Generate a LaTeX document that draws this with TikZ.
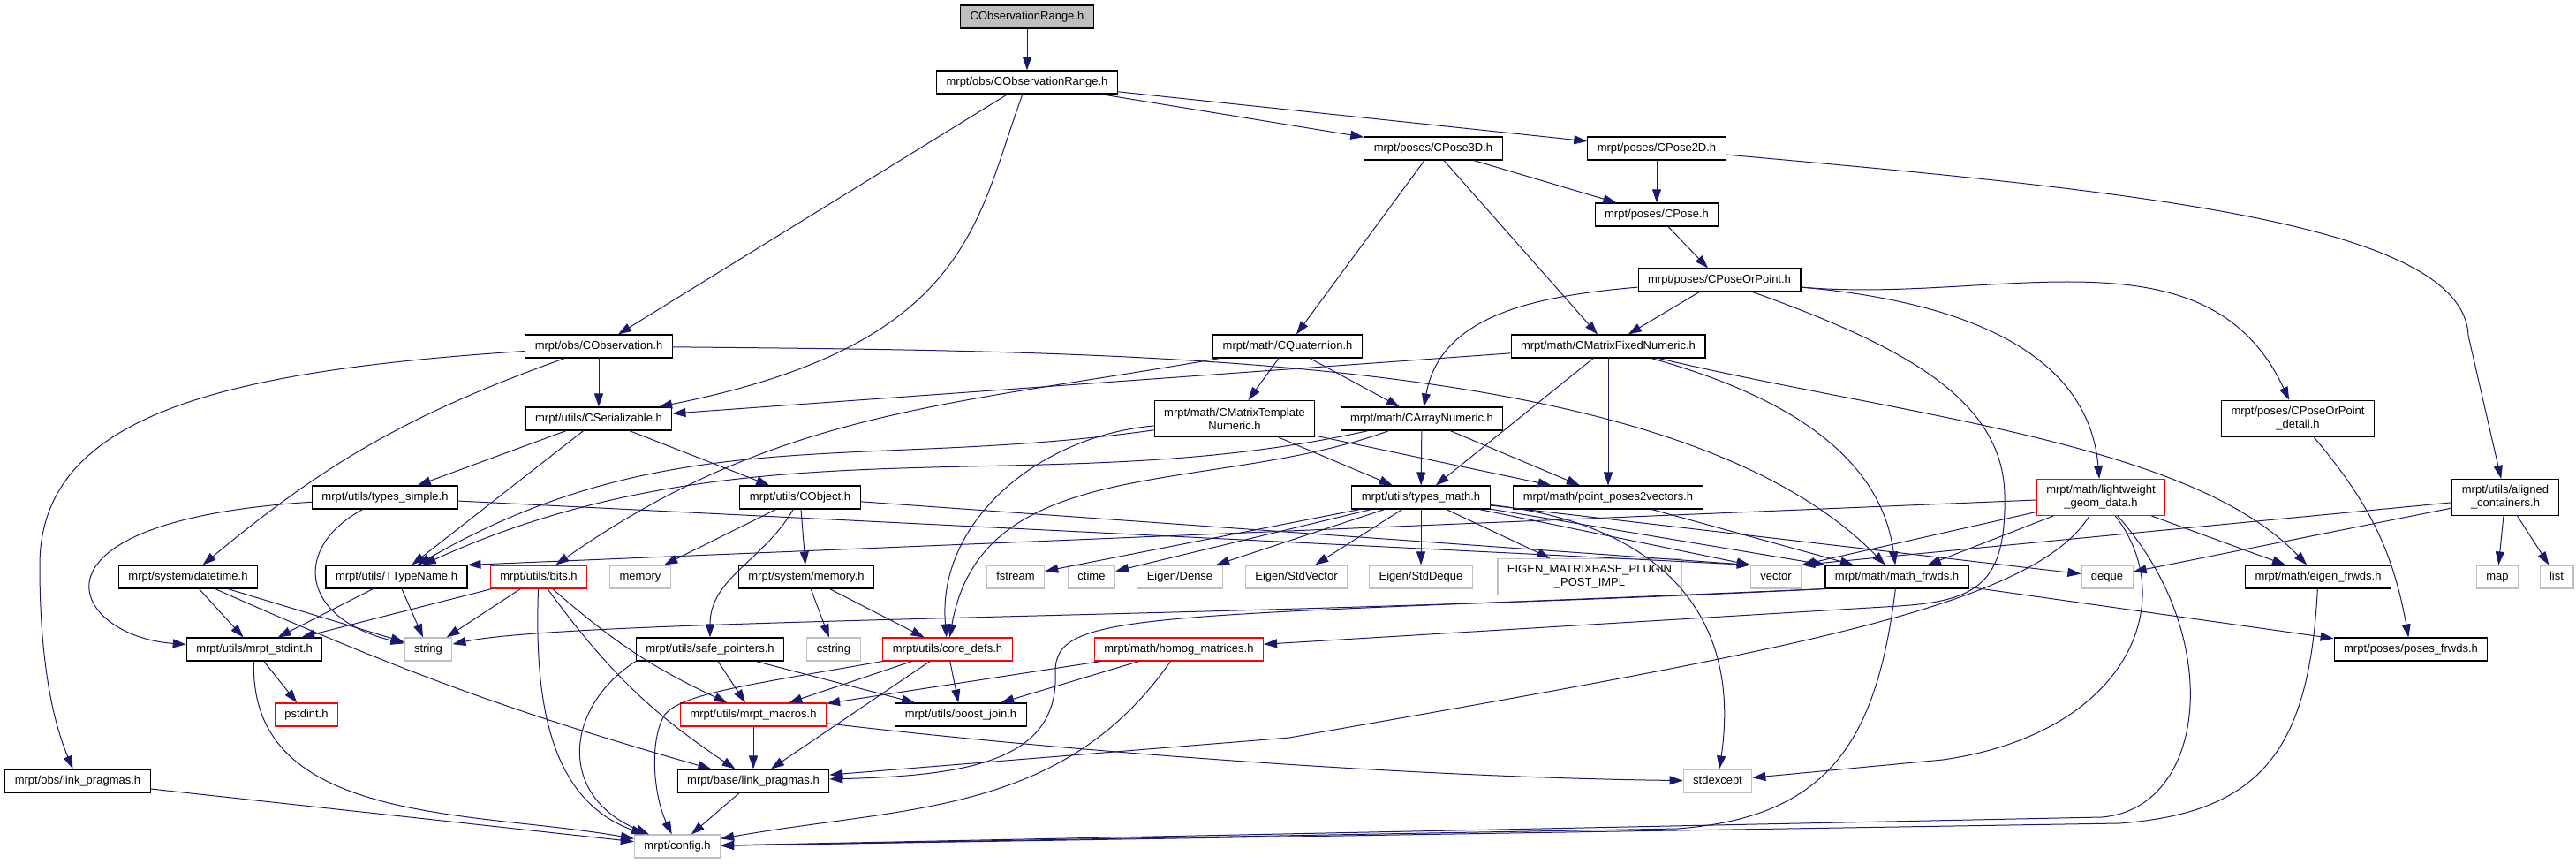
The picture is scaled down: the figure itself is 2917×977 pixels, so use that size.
\documentclass[tikz,border=0pt]{standalone}
\usepackage{fontspec}
\setmainfont{Liberation Sans}
\usetikzlibrary{arrows.meta}
\definecolor{edgeblue}{HTML}{191970}
\definecolor{sysgray}{HTML}{BFBFBF}
\newcommand{\hdrfont}{\fontsize{13}{15}\selectfont}
\begin{document}
\begin{tikzpicture}[x=1pt,y=1pt]
\tikzstyle{every node}+=[font=\hdrfont]
\tikzstyle{hdr}=[draw=black, line width=1.1pt, inner xsep=11pt, inner ysep=0pt, minimum height=26pt, text height=9.6pt, text depth=2.9pt]
\tikzstyle{hdrtwo}=[hdr, align=center, minimum height=41pt, text height=, text depth=]
\tikzstyle{sys}=[hdr, draw=sysgray]
\tikzstyle{trunc}=[hdr, draw=red]
\tikzstyle{inc}=[draw=edgeblue, line width=1pt, -{Triangle[length=15pt,width=10pt]}]
\useasboundingbox (0,0) rectangle (2917,-977);
\node [hdr, fill=sysgray] (root) at (1163,-19) {CObservationRange.h};
\node [hdr] (obsRange) at (1163,-93) {mrpt/obs/CObservationRange.h};
\node [hdr] (pose3d) at (1623,-168) {mrpt/poses/CPose3D.h};
\node [hdr] (pose2d) at (1876,-168) {mrpt/poses/CPose2D.h};
\node [hdr] (pose) at (1876,-243) {mrpt/poses/CPose.h};
\node [hdr] (poseOrPt) at (1947,-317) {mrpt/poses/CPoseOrPoint.h};
\node [hdr] (obs) at (678,-392) {mrpt/obs/CObservation.h};
\node [hdr] (quat) at (1458,-392) {mrpt/math/CQuaternion.h};
\node [hdr] (fixedNum) at (1821,-392) {mrpt/math/CMatrixFixedNumeric.h};
\node [hdr] (serial) at (678,-474) {mrpt/utils/CSerializable.h};
\node [hdrtwo] (tmplNum) at (1398,-474) {mrpt/math/CMatrixTemplate\\Numeric.h};
\node [hdr] (arrNum) at (1610,-474) {mrpt/math/CArrayNumeric.h};
\node [hdrtwo] (ppDetail) at (2602,-474) {mrpt/poses/CPoseOrPoint\\\_detail.h};
\node [hdr] (tSimple) at (436,-563) {mrpt/utils/types\_simple.h};
\node [hdr] (cObject) at (906,-563) {mrpt/utils/CObject.h};
\node [hdr] (tMath) at (1609,-563) {mrpt/utils/types\_math.h};
\node [hdr] (pp2vec) at (1821,-563) {mrpt/math/point\_poses2vectors.h};
\node [hdrtwo, draw=red] (lwGeom) at (2379,-563) {mrpt/math/lightweight\\\_geom\_data.h};
\node [hdrtwo] (aligned) at (2837,-563) {mrpt/utils/aligned\\\_containers.h};
\node [hdr] (datetime) at (213,-653) {mrpt/system/datetime.h};
\node [hdr] (typeName) at (449,-653) {mrpt/utils/TTypeName.h};
\node [trunc] (bits) at (610,-653) {mrpt/utils/bits.h};
\node [sys] (memory) at (725,-653) {memory};
\node [hdr] (sysMem) at (913,-653) {mrpt/system/memory.h};
\node [sys] (fstream) at (1150,-653) {fstream};
\node [sys] (ctime) at (1236,-653) {ctime};
\node [sys] (eDense) at (1336,-653) {Eigen/Dense};
\node [sys] (eStdVec) at (1468,-653) {Eigen/StdVector};
\node [sys] (eStdDeq) at (1609,-653) {Eigen/StdDeque};
\node [hdrtwo, draw=sysgray] (ePlugin) at (1800,-653) {EIGEN\_MATRIXBASE\_PLUGIN\\\_POST\_IMPL};
\node [sys] (vector) at (2011,-653) {vector};
\node [hdr] (mathFrwds) at (2148,-653) {mrpt/math/math\_frwds.h};
\node [sys] (deque) at (2386,-653) {deque};
\node [hdr] (eigenFrwds) at (2625,-653) {mrpt/math/eigen\_frwds.h};
\node [sys] (map) at (2828,-653) {map};
\node [sys] (list) at (2895,-653) {list};
\node [hdr] (stdint) at (288,-735) {mrpt/utils/mrpt\_stdint.h};
\node [sys] (string) at (485,-735) {string};
\node [hdr] (safePtr) at (804,-735) {mrpt/utils/safe\_pointers.h};
\node [sys] (cstring) at (944,-735) {cstring};
\node [trunc] (coreDefs) at (1073,-735) {mrpt/utils/core\_defs.h};
\node [trunc] (homog) at (1335,-735) {mrpt/math/homog\_matrices.h};
\node [hdr] (posesFrwds) at (2730,-735) {mrpt/poses/poses\_frwds.h};
\node [trunc] (pstdint) at (347,-809) {pstdint.h};
\node [trunc] (macros) at (853,-809) {mrpt/utils/mrpt\_macros.h};
\node [hdr] (boostJoin) at (1088,-809) {mrpt/utils/boost\_join.h};
\node [hdr] (obsLink) at (88,-884) {mrpt/obs/link\_pragmas.h};
\node [hdr] (baseLink) at (853,-884) {mrpt/base/link\_pragmas.h};
\node [sys] (stdexcept) at (1945,-884) {stdexcept};
\node [sys] (config) at (767,-958) {mrpt/config.h};
\draw [inc] (root) -- (obsRange);
\draw [inc] (obsRange) -- (obs);
\draw [inc] (obsRange) .. controls (1105,-250) and (1100,-390) .. (serial);
\draw [inc] (obsRange) -- (pose3d);
\draw [inc] (obsRange) -- (pose2d);
\draw [inc] (pose3d) -- (quat);
\draw [inc] (pose3d) -- (fixedNum);
\draw [inc] (pose3d) -- (pose);
\draw [inc] (pose2d) -- (pose);
\draw [inc] (pose2d) .. controls (2400,-215) and (2790,-250) .. (2795,-380) -- (aligned);
\draw [inc] (pose) -- (poseOrPt);
\draw [inc] (poseOrPt) -- (fixedNum);
\draw [inc] (poseOrPt) to[out=185,in=80] (arrNum);
\draw [inc] (poseOrPt) .. controls (2150,-390) and (2268,-450) .. (2270,-560) .. controls (2272,-660) and (2240,-680) .. (2150,-686) -- (homog);
\draw [inc] (poseOrPt) to[out=-5,in=95] (lwGeom);
\draw [inc] (poseOrPt) to[out=-5,in=115] (ppDetail);
\draw [inc] (fixedNum) -- (serial);
\draw [inc] (fixedNum) -- (tMath);
\draw [inc] (fixedNum) -- (pp2vec);
\draw [inc] (fixedNum) .. controls (2030,-450) and (2130,-520) .. (mathFrwds);
\draw [inc] (fixedNum) .. controls (2150,-470) and (2480,-500) .. (eigenFrwds);
\draw [inc] (obs) -- (serial);
\draw [inc] (obs) to[bend right=10] (datetime);
\draw [inc] (obs) .. controls (250,-420) and (45,-470) .. (45,-640) .. controls (45,-780) and (70,-840) .. (obsLink);
\draw [inc] (obs) .. controls (1300,-398) and (1900,-400) .. (mathFrwds);
\draw [inc] (serial) -- (tSimple);
\draw [inc] (serial) -- (cObject);
\draw [inc] (serial) -- (typeName);
\draw [inc] (quat) -- (tmplNum);
\draw [inc] (quat) -- (arrNum);
\draw [inc] (quat) to[out=190,in=35] (bits);
\draw [inc] (tmplNum) -- (tMath);
\draw [inc] (tmplNum) -- (pp2vec);
\draw [inc] (tmplNum) to[out=188,in=30] (typeName);
\draw [inc] (tmplNum) to[out=185,in=95] (coreDefs);
\draw [inc] (arrNum) -- (tMath);
\draw [inc] (arrNum) -- (pp2vec);
\draw [inc] (arrNum) to[out=200,in=80] (coreDefs);
\draw [inc] (arrNum) .. controls (1180,-570) and (850,-470) .. (typeName);
\draw [inc] (ppDetail) to[bend left=15] (posesFrwds);
\draw [inc] (tSimple) .. controls (10,-590) and (80,-720) .. (stdint);
\draw [inc] (tSimple) .. controls (330,-620) and (340,-700) .. (string);
\draw [inc] (tSimple) -- (vector.north west);
\draw [inc] (cObject) -- (memory);
\draw [inc] (cObject) -- (sysMem);
\draw [inc] (cObject) to[out=-120,in=90] (safePtr);
\draw [inc] (cObject) -- (vector.north west);
\draw [inc] (tMath) -- (fstream);
\draw [inc] (tMath) -- (ctime);
\draw [inc] (tMath) -- (eDense);
\draw [inc] (tMath) -- (eStdVec);
\draw [inc] (tMath) -- (eStdDeq);
\draw [inc] (tMath) -- (ePlugin);
\draw [inc] (tMath) -- (vector.north west);
\draw [inc] (tMath) -- (mathFrwds);
\draw [inc] (tMath) -- (deque);
\draw [inc] (tMath) .. controls (1860,-590) and (1975,-680) .. (stdexcept);
\draw [inc] (pp2vec) -- (mathFrwds);
\draw [inc] (lwGeom) -- (typeName.north east);
\draw [inc] (lwGeom) -- (vector.north east);
\draw [inc] (lwGeom) -- (mathFrwds);
\draw [inc] (lwGeom) -- (eigenFrwds);
\draw [inc] (lwGeom) .. controls (2300,-690) and (2000,-740) .. (1460,-835) -- (baseLink);
\draw [inc] (lwGeom) .. controls (2470,-680) and (2410,-830) .. (2200,-860) -- (stdexcept);
\draw [inc] (lwGeom) .. controls (2520,-720) and (2500,-915) .. (2380,-925) -- (config);
\draw [inc] (aligned) -- (vector.north east);
\draw [inc] (aligned) -- (deque);
\draw [inc] (aligned) -- (map);
\draw [inc] (aligned) -- (list);
\draw [inc] (datetime) -- (stdint);
\draw [inc] (datetime) -- (string);
\draw [inc] (datetime) to[bend right=4] (baseLink);
\draw [inc] (typeName) -- (stdint);
\draw [inc] (typeName) -- (string);
\draw [inc] (bits) -- (stdint);
\draw [inc] (bits) -- (string);
\draw [inc] (bits) to[bend right=8] (macros);
\draw [inc] (bits) to[bend right=10] (baseLink);
\draw [inc] (bits) to[out=-92,in=160] (config);
\draw [inc] (sysMem) -- (cstring);
\draw [inc] (sysMem) -- (coreDefs);
\draw [inc] (mathFrwds.south west) .. controls (1400,-700) and (650,-700) .. (string);
\draw [inc] (mathFrwds.south west) .. controls (1300,-700) and (1195,-690) .. (1195,-760) .. controls (1200,-860) and (1100,-878) .. (baseLink);
\draw [inc] (mathFrwds) .. controls (2125,-840) and (2070,-925) .. (1900,-938) -- (config);
\draw [inc] (mathFrwds) -- (posesFrwds);
\draw [inc] (eigenFrwds) .. controls (2615,-850) and (2560,-920) .. (2400,-932) -- (config);
\draw [inc] (stdint) -- (pstdint);
\draw [inc] (stdint) to[out=-92,in=170] (config);
\draw [inc] (safePtr) -- (macros);
\draw [inc] (safePtr) -- (boostJoin);
\draw [inc] (safePtr.south west) .. controls (640,-800) and (630,-900) .. (config);
\draw [inc] (coreDefs) -- (macros);
\draw [inc] (coreDefs) -- (boostJoin);
\draw [inc] (coreDefs) -- (baseLink);
\draw [inc] (coreDefs.south west) .. controls (850,-775) and (770,-785) .. (752,-810) .. controls (735,-840) and (740,-900) .. (config);
\draw [inc] (homog) -- (macros);
\draw [inc] (homog) -- (boostJoin);
\draw [inc] (homog) to[out=-125,in=10] (config);
\draw [inc] (macros) -- (baseLink);
\draw [inc] (macros) .. controls (1200,-850) and (1600,-880) .. (stdexcept);
\draw [inc] (obsLink) -- (config);
\draw [inc] (baseLink) -- (config);
\end{tikzpicture}
\end{document}
